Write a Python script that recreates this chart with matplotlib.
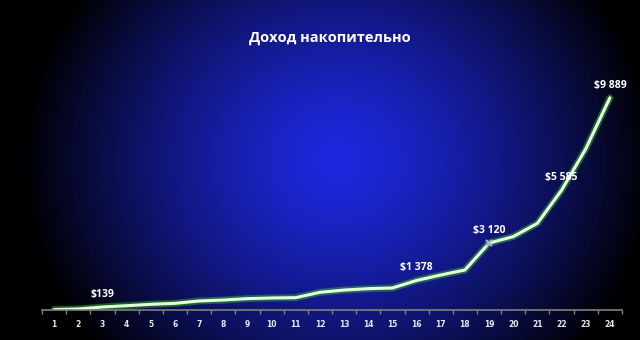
import matplotlib.pyplot as plt
import numpy as np

months = list(range(1, 25))
income = [20, 50, 139, 200, 265, 310, 420, 465, 530, 560, 575, 825,
          930, 995, 1025, 1378, 1630, 1865, 3120, 3420, 4040, 5585, 7510, 9889]
labelled = {3: "$139", 16: "$1 378", 19: "$3 120", 22: "$5 585", 24: "$9 889"}
title = "Доход накопительно"

W, H = 640, 340
fig = plt.figure(figsize=(W / 100, H / 100), dpi=100)

# radial blue background
bg = fig.add_axes([0, 0, 1, 1], zorder=0)
yy, xx = np.mgrid[0:H, 0:W]
r = np.sqrt(((xx - 338) / 315.0) ** 2 + ((yy - 160) / 290.0) ** 2)
t = np.clip(1 - r ** 1.35, 0, 1)
center = np.array([30, 40, 222]) / 255.0
img = t[..., None] * center
bg.imshow(img, aspect="auto", extent=[0, 1, 0, 1], origin="upper")
bg.axis("off")

ax = fig.add_axes([42 / W, 30 / H, 580 / W, 236 / H], zorder=1)
ax.patch.set_alpha(0)

ax.plot(months, income, color="#2ea03a", lw=5, alpha=0.55, solid_capstyle="round")
ax.plot(months, income, color="#e6ffd6", lw=2.2, solid_capstyle="round")
ax.plot([19], [income[18]], marker="x", ms=5, mew=1.5, color="#a8b8d0")

for m, txt in labelled.items():
    ax.annotate(txt, (m, income[m - 1]), xytext=(0, 9), textcoords="offset points",
                ha="center", va="center", color="white", fontsize=7.5,
                fontweight="bold", family="Open Sans")

ax.set_xlim(0.5, 24.5)
ax.set_ylim(0, 11000)
ax.set_xticks(np.arange(0.5, 25, 1))
ax.set_xticklabels([])
ax.set_xticks(months, minor=True)
ax.set_xticklabels([str(m) for m in months], minor=True, color="#e8e8f0",
                    fontsize=5.5, fontweight="bold")
ax.tick_params(axis="x", which="major", length=3, color="#808080", width=1)
ax.tick_params(axis="x", which="minor", length=0, pad=7)
ax.set_yticks([])
for s in ["top", "right", "left"]:
    ax.spines[s].set_visible(False)
ax.spines["bottom"].set_color("#808080")
ax.spines["bottom"].set_linewidth(1.2)

fig.text(330 / W, 1 - 38 / H, title, ha="center", va="center", color="white",
         fontsize=10.5, fontweight="bold", family="Open Sans")

fig.savefig("out.png", dpi=100)
